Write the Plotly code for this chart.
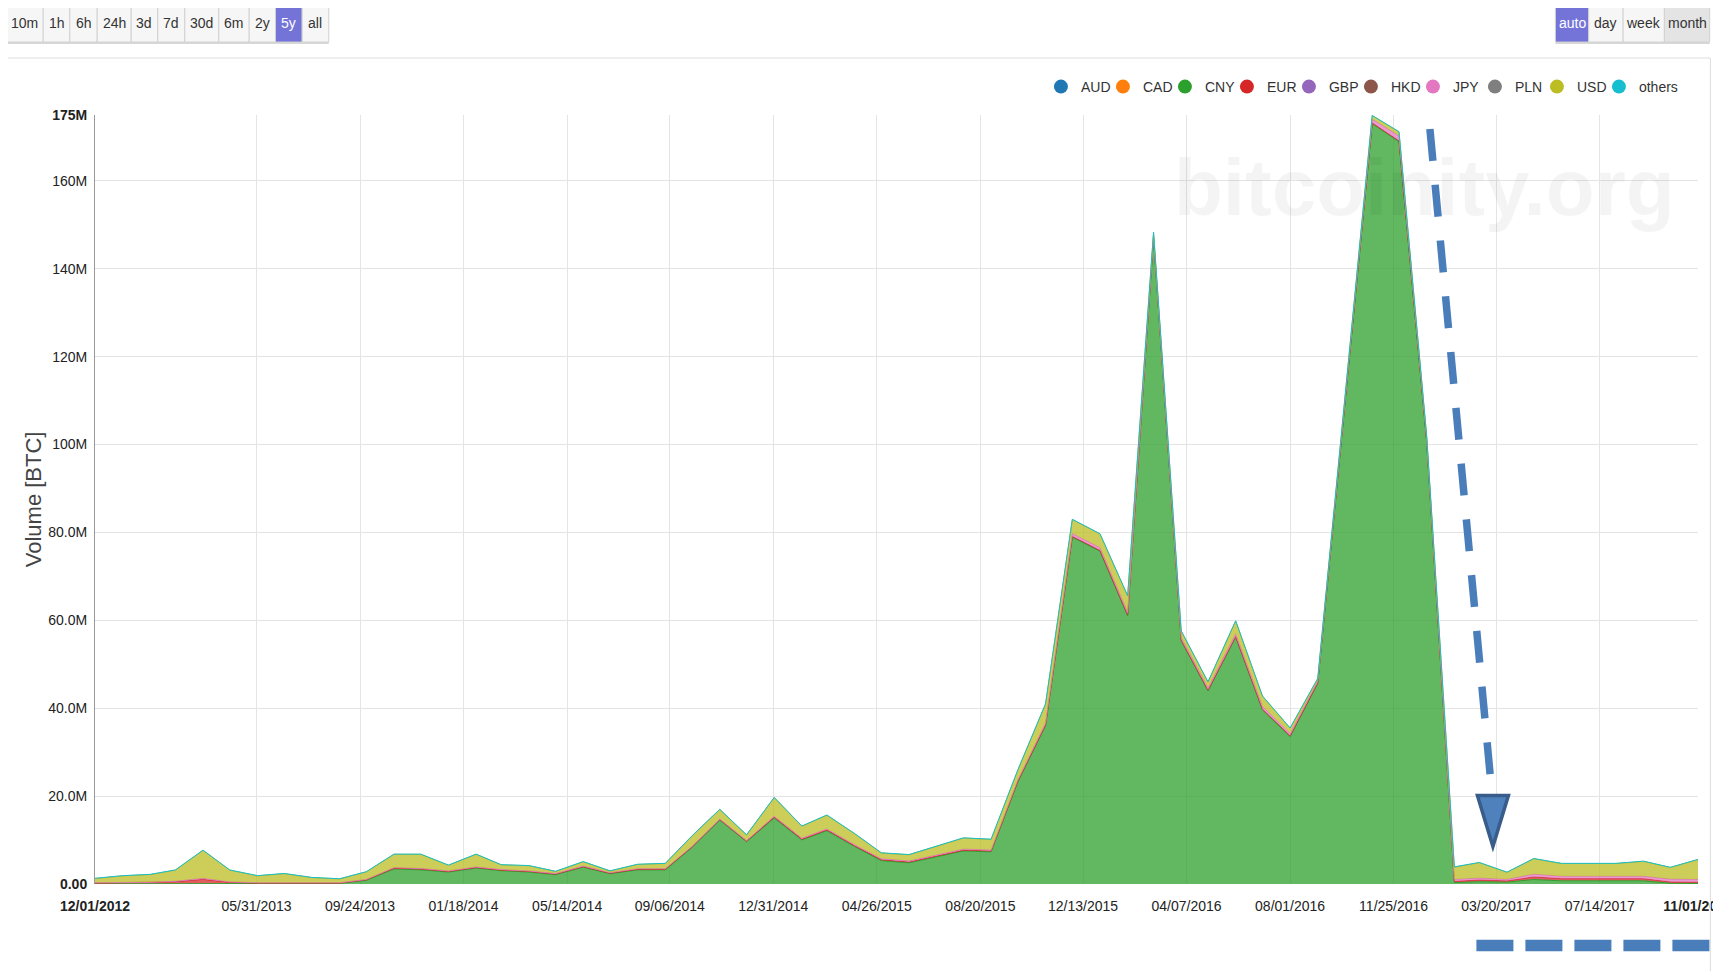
import pandas as pd
import plotly.graph_objects as go

# ---------------- data (monthly volume, millions of BTC) ----------------
months = pd.date_range("2012-12-01", periods=60, freq="MS")

cny = [0, 0, 0, 0, 0.05, 0.05, 0.05, 0.05, 0.05, 0.1, 0.8, 3.4,
       3.2, 2.7, 3.6, 3.0, 2.7, 2.1, 3.8, 2.3, 3.2, 3.2, 8.3, 14.5,
       9.6, 15.0, 10.0, 12.1, 8.5, 5.3, 4.8, 6.2, 7.5, 7.3, 23.2, 36.0,
       78.9, 75.7, 61.0, 147.0, 55.3, 43.9, 56.1, 39.6, 33.5, 45.6, 108.0, 173.0,
       168.9, 100.5, 0.3, 0.5, 0.4, 1.0, 0.7, 0.7, 0.6, 0.7, 0.15, 0.1]

eur = [0.2, 0.25, 0.3, 0.5, 1.0, 0.3, 0.15, 0.15, 0.1, 0.1, 0.15, 0.2,
       0.2, 0.15, 0.15, 0.15, 0.15, 0.15, 0.15, 0.15, 0.15, 0.15, 0.15, 0.15,
       0.15, 0.2, 0.2, 0.2, 0.2, 0.2, 0.2, 0.2, 0.2, 0.2, 0.2, 0.2,
       0.2, 0.2, 0.2, 0.2, 0.2, 0.2, 0.2, 0.2, 0.2, 0.2, 0.2, 0.2,
       0.2, 0.3, 0.3, 0.4, 0.3, 0.6, 0.5, 0.5, 0.6, 0.5, 0.3, 0.3]

jpy = [0.05, 0.05, 0.05, 0.1, 0.2, 0.1, 0.05, 0.05, 0.05, 0.05, 0.05, 0.1,
       0.1, 0.1, 0.1, 0.1, 0.1, 0.1, 0.1, 0.1, 0.1, 0.1, 0.1, 0.1,
       0.1, 0.2, 0.2, 0.2, 0.2, 0.2, 0.2, 0.2, 0.2, 0.2, 0.3, 0.4,
       0.6, 0.6, 0.6, 0.4, 0.5, 0.5, 0.6, 0.6, 0.5, 0.4, 0.6, 0.8,
       1.1, 0.8, 0.4, 0.4, 0.3, 0.6, 0.5, 0.5, 0.5, 0.5, 0.6, 0.6]

usd = [0.92, 1.47, 1.72, 2.47, 6.32, 2.62, 1.52, 2.02, 1.17, 0.82, 1.67, 2.97,
       3.17, 1.22, 2.82, 1.02, 1.12, 0.42, 0.92, 0.32, 0.92, 1.12, 2.32, 2.12,
       1.22, 4.17, 2.67, 3.07, 2.47, 1.27, 1.37, 1.77, 2.47, 2.37, 2.17, 4.27,
       3.17, 3.07, 3.67, 0.57, 1.47, 1.27, 2.87, 2.27, 1.17, 0.47, 1.07, 0.77,
       0.87, 0.27, 2.77, 3.47, 1.57, 3.47, 2.87, 2.87, 2.87, 3.37, 2.62, 4.47]

aud = [0.01] * 60
cad = [0.01] * 60
gbp = [0.02] * 60
hkd = [0.01] * 60
pln = [0.03] * 60
others = [0.05] * 60

currencies = ["AUD", "CAD", "CNY", "EUR", "GBP", "HKD", "JPY", "PLN", "USD", "others"]
series = [aud, cad, cny, eur, gbp, hkd, jpy, pln, usd, others]
colors = ["#1f77b4", "#ff7f0e", "#2ca02c", "#d62728", "#9467bd",
          "#8c564b", "#e377c2", "#7f7f7f", "#bcbd22", "#17becf"]
line_widths = [0, 0, 1, 1, 0, 0, 1, 0, 1, 1]

x_tick_dates = ["2012-12-01", "2013-05-31", "2013-09-24", "2014-01-18", "2014-05-14",
                "2014-09-06", "2014-12-31", "2015-04-26", "2015-08-20", "2015-12-13",
                "2016-04-07", "2016-08-01", "2016-11-25", "2017-03-20", "2017-07-14",
                "2017-11-01"]
x_tick_text = ["<b>12/01/2012</b>", "05/31/2013", "09/24/2013", "01/18/2014", "05/14/2014",
               "09/06/2014", "12/31/2014", "04/26/2015", "08/20/2015", "12/13/2015",
               "04/07/2016", "08/01/2016", "11/25/2016", "03/20/2017", "07/14/2017",
               "<b>11/01/2017</b>"]
y_tick_vals = [0, 20e6, 40e6, 60e6, 80e6, 100e6, 120e6, 140e6, 160e6, 175e6]
y_tick_text = ["<b>0.00</b>", "20.0M", "40.0M", "60.0M", "80.0M", "100M", "120M",
               "140M", "160M", "<b>175M</b>"]
y_title = "Volume [BTC]"

range_buttons = ["10m", "1h", "6h", "24h", "3d", "7d", "30d", "6m", "2y", "5y", "all"]
group_buttons = ["auto", "day", "week", "month"]

# ---------------- layout geometry (page pixels; page body has an 8px margin) ----------------
OFF = 8
W, H = 1713, 963
L, R, T, B = 86.5, 23.4, 107, 86.5
PW, PH = W - L - R, H - T - B
FONT = "Liberation Sans, Arial, sans-serif"


def px(xp):
    return (xp - OFF - L) / PW


def py(yp):
    return (H - B - (yp - OFF)) / PH


def rgba(hexc, a):
    h = hexc.lstrip("#")
    return "rgba(%d,%d,%d,%.2f)" % (int(h[0:2], 16), int(h[2:4], 16), int(h[4:6], 16), a)


fig = go.Figure()

for name, vals, col, lw in zip(currencies, series, colors, line_widths):
    fig.add_trace(go.Scatter(
        x=months, y=[v * 1e6 for v in vals], name=name, stackgroup="one",
        mode="lines", line=dict(color=col, width=lw),
        fillcolor=rgba(col, 0.75), showlegend=False, legendgroup=name,
        hoverinfo="skip"))

for name, col in zip(currencies, colors):
    fig.add_trace(go.Scatter(
        x=[None], y=[None], name=name, mode="markers", legendgroup=name,
        marker=dict(symbol="circle", size=14, color=col), showlegend=True))
# spacer entry so that the last legend label is not clipped
fig.add_trace(go.Scatter(x=[None], y=[None], name=" ", mode="markers",
                         marker=dict(size=1, color="rgba(0,0,0,0)"), showlegend=True))

shapes = []
annotations = []

# container border
for (xa, ya, xb, yb) in [(4.5, 58, 1710, 58), (4.5, 58, 4.5, 975), (1710, 58, 1710, 975)]:
    shapes.append(dict(type="line", xref="paper", yref="paper", x0=px(xa), x1=px(xb),
                       y0=py(ya), y1=py(yb), line=dict(color="#dddddd", width=1)))


def button_group(edges, labels, active, pressed=None):
    y0, y1 = 4, 42
    shapes.append(dict(type="rect", xref="paper", yref="paper", x0=px(edges[0]), x1=px(edges[-1]),
                       y0=py(y1 + 2), y1=py(y0 + 1), fillcolor="#d8d8d8", line=dict(width=0)))
    for i, lab in enumerate(labels):
        xa, xb = edges[i], edges[i + 1]
        if i == active:
            fill, tc = "#7474d8", "#ffffff"
        elif i == pressed:
            fill, tc = "#e4e4e4", "#333333"
        else:
            fill, tc = "#f6f6f6", "#333333"
        shapes.append(dict(type="rect", xref="paper", yref="paper", x0=px(xa), x1=px(xb),
                           y0=py(y1), y1=py(y0), fillcolor=fill,
                           line=dict(color="#d2d2d2", width=1)))
        annotations.append(dict(xref="paper", yref="paper", x=px((xa + xb) / 2), y=py((y0 + y1) / 2),
                                text=lab, showarrow=False, xanchor="center", yanchor="middle",
                                font=dict(family=FONT, size=14, color=tc)))


button_group([4.7, 42.7, 69.3, 96.7, 130.7, 157.3, 184.3, 218.3, 248.7, 275, 301.7, 328.3],
             range_buttons, 9)
button_group([1555, 1588.3, 1622.7, 1664, 1709.3], group_buttons, 0, 3)

# y-axis title
annotations.append(dict(xref="paper", yref="paper", x=px(33), y=py(500), text=y_title,
                        textangle=-90, showarrow=False, xanchor="center", yanchor="middle",
                        font=dict(family=FONT, size=22, color="#444444")))

# watermark
annotations.append(dict(xref="paper", yref="paper", x=px(1424), y=py(188), text="<b>bitcoinity.org</b>",
                        showarrow=False, xanchor="center", yanchor="middle",
                        font=dict(family=FONT, size=80, color="rgba(0,0,0,0.045)")))

# dashed arrow annotation
shapes.append(dict(type="line", xref="paper", yref="paper", x0=px(1429.5), y0=py(129),
                   x1=px(1490), y1=py(778), line=dict(color="#4a7ebb", width=7.5, dash="32px,24px")))
tri = "M %f,%f L %f,%f L %f,%f Z" % (px(1477), py(796), px(1508), py(796), px(1492.5), py(847))
shapes.append(dict(type="path", xref="paper", yref="paper", path=tri, fillcolor="#4f81bd",
                   line=dict(color="#385d8a", width=3.5)))
shapes.append(dict(type="line", xref="paper", yref="paper", x0=px(1476), y0=py(946),
                   x1=px(1730), y1=py(946), line=dict(color="#4a7ebb", width=11.5, dash="37px,12px")))

fig.update_layout(
    width=W, height=H,
    margin=dict(l=L, r=R, t=T, b=B, autoexpand=False),
    paper_bgcolor="white", plot_bgcolor="white",
    template="none",
    hovermode=False,
    shapes=shapes, annotations=annotations,
    legend=dict(orientation="h", x=px(1040.5), y=py(87), xanchor="left", yanchor="middle",
                font=dict(family=FONT, size=14, color="#333333"),
                itemwidth=30, entrywidth=17, entrywidthmode="pixels",
                bgcolor="rgba(0,0,0,0)", tracegroupgap=0),
    xaxis=dict(type="date", range=["2012-12-01", "2017-11-01"], tickmode="array",
               tickvals=x_tick_dates, ticktext=x_tick_text, showgrid=True,
               gridcolor="#e4e4e4", gridwidth=1, zeroline=False, showline=False,
               ticks="", ticklabelstandoff=12, automargin=False, ticklabeloverflow="allow",
               tickfont=dict(family=FONT, size=14, color="#222222")),
    yaxis=dict(range=[0, 175e6], tickmode="array", tickvals=y_tick_vals, ticktext=y_tick_text,
               showgrid=True, gridcolor="#e4e4e4", gridwidth=1, zeroline=False,
               showline=True, linecolor="#999999", linewidth=1, ticks="",
               ticklabelstandoff=4, automargin=False,
               tickfont=dict(family=FONT, size=14, color="#222222")),
)

fig.write_html("out.html", config={"displayModeBar": False})
